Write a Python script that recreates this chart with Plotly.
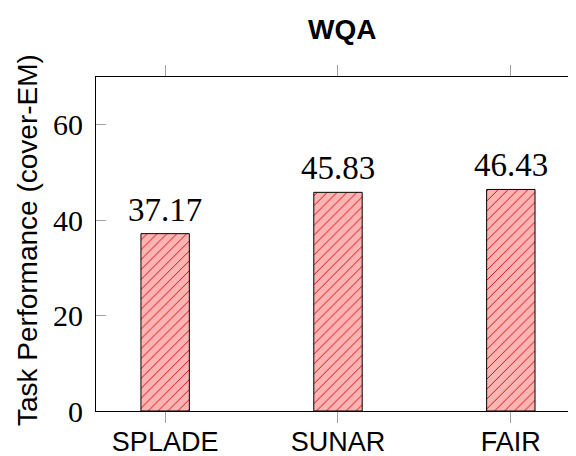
import plotly.graph_objects as go

title = "WQA"
y_title = "Task Performance (cover-EM)"
categories = ["SPLADE", "SUNAR", "FAIR"]
values = [37.17, 45.83, 46.43]
y_ticks = [0, 20, 40, 60]

xpos = list(range(len(categories)))
SERIF = "Liberation Serif"
SANS = "Liberation Sans"
TICKC = "#a0a0a0"
xr = [-0.4, 2.377]
yr = [0, 70]

fig = go.Figure()
fig.add_trace(go.Bar(
    x=xpos, y=values, width=0.28,
    marker=dict(
        color="#ffb3b3",
        line=dict(color="black", width=1),
        pattern=dict(shape="/", fillmode="replace", bgcolor="#ffb3b3",
                     fgcolor="#d00000", size=7, solidity=0.13),
    ),
    showlegend=False,
))

annotations = [
    dict(text=f"<b>{title}</b>", xref="paper", yref="paper",
         x=(342 - 96) / 480, y=1 + (77 - 30) / 334,
         xanchor="center", yanchor="middle", showarrow=False,
         font=dict(family=SANS, size=28, color="black")),
    dict(text=y_title, xref="paper", yref="paper",
         x=(27 - 96) / 480, y=(411 - 240) / 334, textangle=-90,
         xanchor="center", yanchor="middle", showarrow=False,
         font=dict(family=SANS, size=28, color="black")),
]
for xp, v in zip(xpos, values):
    annotations.append(dict(
        text=f"{v:.2f}", x=xp, y=v, xref="x", yref="y",
        xanchor="center", yanchor="bottom", yshift=4, showarrow=False,
        font=dict(family=SERIF, size=33, color="black")))

# page body has an 8px margin: figure sized to fill the rest of the window
fig.update_layout(
    width=568, height=448,
    margin=dict(l=88, r=0, t=69, b=45),
    paper_bgcolor="white", plot_bgcolor="white",
    xaxis=dict(range=xr, tickvals=xpos, ticktext=categories, automargin=False,
               showline=True, linecolor="black", linewidth=1,
               ticks="outside", ticklen=11, tickcolor=TICKC, tickwidth=1,
               ticklabelstandoff=-4,
               showgrid=False, zeroline=False,
               tickfont=dict(family=SANS, size=27, color="black")),
    xaxis2=dict(range=xr, tickvals=xpos, overlaying="x", side="top", automargin=False,
                showline=True, linecolor="black", linewidth=1,
                ticks="outside", ticklen=11, tickcolor=TICKC, tickwidth=1,
                showticklabels=False, showgrid=False, zeroline=False),
    yaxis=dict(range=yr, tickvals=y_ticks, automargin=False,
               showline=True, linecolor="black", linewidth=1,
               ticks="inside", ticklen=10, tickcolor=TICKC, tickwidth=1,
               ticklabelstandoff=6,
               showgrid=False, zeroline=False,
               tickfont=dict(family=SERIF, size=30, color="black")),
    yaxis2=dict(range=yr, tickvals=y_ticks, overlaying="y", side="right", automargin=False,
                showline=False, ticks="inside", ticklen=6, tickcolor=TICKC,
                tickwidth=1, showticklabels=False, showgrid=False, zeroline=False),
    annotations=annotations,
)
fig.add_trace(go.Scatter(x=[None], y=[None], xaxis="x2", yaxis="y2",
                         showlegend=False, hoverinfo="skip"))

fig.write_html("out.html")
